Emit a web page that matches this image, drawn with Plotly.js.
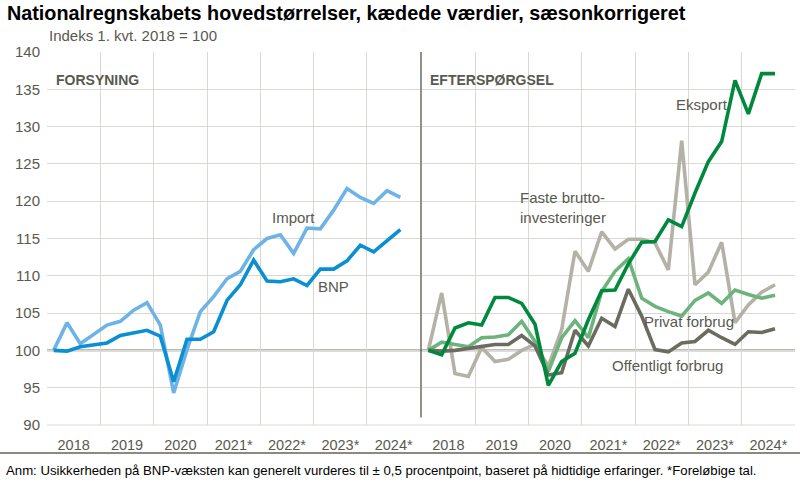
<!DOCTYPE html>
<html>
<head>
<meta charset="utf-8">
<script src="https://cdn.plot.ly/plotly-3.0.1.min.js"></script>
<style>
html,body{margin:0;padding:0;background:#fff;}
#chart{width:800px;height:484px;}
</style>
</head>
<body>
<div id="chart"></div>
<script>
// Quarterly index, 1. kvt. 2018 = 100 (2018Q1 .. 2024Q3)
const quarters = [0,1,2,3,4,5,6,7,8,9,10,11,12,13,14,15,16,17,18,19,20,21,22,23,24,25,26];
const yearTickPos = [1.5,5.5,9.5,13.5,17.5,21.5,25.5];
const yearLabels = ["2018","2019","2020","2021*","2022*","2023*","2024*"];

const importVals = [100,103.7,100.9,102.1,103.4,103.9,105.4,106.4,103.4,94.3,100.1,105.2,107.2,109.6,110.6,113.5,115.0,115.5,113.0,116.4,116.3,118.8,121.7,120.5,119.7,121.4,120.5];
const bnpVals = [100,99.9,100.5,100.7,101.0,102.0,102.3,102.7,101.9,95.8,101.5,101.5,102.5,106.7,108.8,112.1,109.3,109.2,109.6,108.7,110.9,110.9,112.0,114.1,113.2,114.7,116.2];

const eksportVals = [100,99.4,103.0,103.7,103.4,107.1,107.1,106.3,103.5,95.3,98.5,99.6,104.1,108.0,108.1,111.6,114.5,114.6,117.5,116.6,121.1,125.3,128.0,136.2,131.7,137.1,137.1];
const investVals = [100,107.7,96.9,96.5,100.4,98.5,98.8,100.0,100.8,97.9,102.8,113.3,110.6,115.9,113.6,114.9,114.9,114.4,110.8,128.1,108.8,110.5,114.5,103.7,106.1,107.8,108.8];
const privatVals = [100,101.1,100.8,100.5,101.7,101.8,102.1,103.9,101.2,97.2,101.7,104.0,101.7,107.9,110.6,112.3,107.0,105.9,105.2,104.6,106.7,107.7,106.3,108.1,107.5,107.0,107.4];
const offentligVals = [100,99.9,100.0,100.3,100.5,100.8,100.8,102.0,100.6,96.7,97.0,102.7,100.6,104.3,103.2,108.2,104.6,100.1,99.8,101.0,101.2,102.7,101.7,100.8,102.5,102.4,102.9];

const FONT = '"Liberation Sans Narrow", "Arial Narrow", "Liberation Sans", Arial, sans-serif';
const TXT = '#595950';
const LW = 3.6;

function tr(y, color, xa){
  return {x: quarters, y: y, type:'scatter', mode:'lines', xaxis: xa, yaxis:'y',
    line:{color: color, width: LW}, hoverinfo:'skip', showlegend:false};
}

const data = [
  tr(importVals, '#6db3e6', 'x'),
  tr(bnpVals, '#0a8fd3', 'x'),
  tr(investVals, '#b4b2a7', 'x2'),
  tr(privatVals, '#6cb47c', 'x2'),
  tr(offentligVals, '#6c6b60', 'x2'),
  tr(eksportVals, '#00893d', 'x2')
];

function xax(domain){
  return {
    domain: domain, range:[-0.5, 27.5], showline:false, zeroline:false,
    tickmode:'array', tickvals: yearTickPos, ticktext: yearLabels,
    showgrid:false, ticks:'', ticklabelstandoff:9, tickfont:{family:FONT, size:14.5, color:TXT},
    minor:{tick0:-0.5, dtick:4, showgrid:true, gridcolor:'#d9d9d4', gridwidth:1, ticks:''},
    fixedrange:true
  };
}

const ann = (x, y, xr, text, opts) => Object.assign({
  x: x, y: y, xref: xr, yref:'y', text: text, showarrow:false,
  font:{family:FONT, size:15, color:TXT}, xanchor:'left', yanchor:'middle'
}, opts||{});

const layout = {
  width:800, height:484,
  margin:{l:47, r:5, t:52, b:59},
  paper_bgcolor:'#ffffff', plot_bgcolor:'#ffffff',
  showlegend:false,
  xaxis: xax([0, 0.4991]),
  xaxis2: Object.assign(xax([0.5009, 1]), {anchor:'y'}),
  yaxis: {
    range:[90,140], tickmode:'linear', tick0:90, dtick:5,
    showgrid:true, gridcolor:'#d9d9d4', gridwidth:1, zeroline:false,
    showline:false, ticks:'', ticklabelstandoff:6,
    tickfont:{family:FONT, size:15, color:TXT}, fixedrange:true
  },
  shapes:[
    {type:'line', xref:'paper', yref:'y', x0:0, x1:1, y0:100, y1:100, line:{color:'#7a786c', width:1.8}, layer:'below'},
    {type:'line', xref:'paper', yref:'paper', x0:0.5, x1:0.5, y0:0.02, y1:1, line:{color:'#6c6b60', width:1.5}},
    {type:'line', xref:'paper', yref:'paper', x0:0, x1:1, y0:0, y1:0, line:{color:'#d9d9d4', width:1}, layer:'below'},
    {type:'line', xref:'paper', yref:'paper', x0:-0.063, x1:1.007, y0:-0.075, y1:-0.075, line:{color:'#8c8a80', width:2}}
  ],
  annotations:[
    {xref:'paper', yref:'paper', x:-0.056, y:1.104, xanchor:'left', yanchor:'middle', showarrow:false,
     text:'<b>Nationalregnskabets hovedstørrelser, kædede værdier, sæsonkorrigeret</b>',
     font:{family:'"Liberation Sans", Arial, sans-serif', size:19.8, color:'#000000'}},
    {xref:'paper', yref:'paper', x:0.0, y:1.045, xanchor:'left', yanchor:'middle', showarrow:false,
     text:'Indeks 1. kvt. 2018 = 100', font:{family:FONT, size:15, color:TXT}},
    {xref:'paper', yref:'paper', x:-0.058, y:-0.123, xanchor:'left', yanchor:'middle', showarrow:false,
     text:'Anm: Usikkerheden på BNP-væksten kan generelt vurderes til ± 0,5 procentpoint, baseret på hidtidige erfaringer. *Foreløbige tal.',
     font:{family:'"Liberation Sans", Arial, sans-serif', size:13.2, color:'#000000'}},
    ann(0.0, 136.3, 'x', '<b>FORSYNING</b>', {font:{family:'"Liberation Sans", Arial, sans-serif', size:14, color:TXT}}),
    ann(0.0, 136.3, 'x2', '<b>EFTERSPØRGSEL</b>', {font:{family:'"Liberation Sans", Arial, sans-serif', size:14, color:TXT}}),
    ann(16.2, 117.8, 'x', 'Import'),
    ann(19.7, 108.6, 'x', 'BNP'),
    ann(18.4, 133.0, 'x2', 'Eksport'),
    ann(6.7, 119.2, 'x2', 'Faste brutto-<br>investeringer', {align:'left'}),
    ann(16.0, 103.9, 'x2', 'Privat forbrug'),
    ann(13.6, 98.0, 'x2', 'Offentligt forbrug')
  ]
};

Plotly.newPlot('chart', data, layout, {staticPlot:true, displayModeBar:false});
</script>
</body>
</html>
